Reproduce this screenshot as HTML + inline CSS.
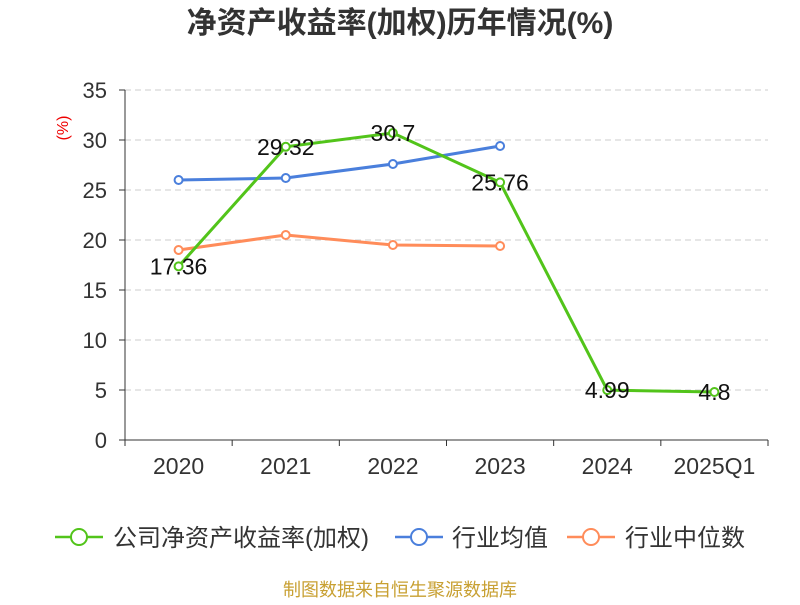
<!DOCTYPE html>
<html><head><meta charset="utf-8"><style>
body{margin:0;background:#fff;}
svg text{font-family:"Liberation Sans","Noto Sans CJK SC",sans-serif;}
</style></head><body>
<svg id="chart" width="800" height="600" xmlns="http://www.w3.org/2000/svg">
<text x="400" y="33" text-anchor="middle" font-size="30" font-weight="bold" fill="#333">净资产收益率(加权)历年情况(%)</text>
<text x="68" y="128" font-size="16" fill="#e00" transform="rotate(-90 68 128)" text-anchor="middle">(%)</text>
<g id="grid"></g><g id="axes"></g><g id="series"></g>
<g>
<g><line x1="55" y1="537" x2="103" y2="537" stroke="#52c41a" stroke-width="2.5"/><circle cx="79" cy="537" r="8" fill="#fff" stroke="#52c41a" stroke-width="2"/><text x="113" y="546" font-size="24" fill="#333">公司净资产收益率(加权)</text></g>
<g><line x1="395" y1="537" x2="443" y2="537" stroke="#4a7fdc" stroke-width="2.5"/><circle cx="419" cy="537" r="8" fill="#fff" stroke="#4a7fdc" stroke-width="2"/><text x="452" y="546" font-size="24" fill="#333">行业均值</text></g>
<g><line x1="567" y1="537" x2="615" y2="537" stroke="#ff8c5a" stroke-width="2.5"/><circle cx="591" cy="537" r="8" fill="#fff" stroke="#ff8c5a" stroke-width="2"/><text x="625" y="546" font-size="24" fill="#333">行业中位数</text></g>
</g>
<text x="400" y="596" text-anchor="middle" font-size="18" fill="#c8a032">制图数据来自恒生聚源数据库</text>
</svg>
<script>
const categories=["2020","2021","2022","2023","2024","2025Q1"];
const companyValues=[17.36,29.32,30.7,25.76,4.99,4.8];
const industryAvg=[26.0,26.2,27.6,29.4];
const industryMedian=[19.0,20.5,19.5,19.4];
const yTicks=[0,5,10,15,20,25,30,35];
const NS="http://www.w3.org/2000/svg";
const x0=125,x1=768,y0=440,yTop=90,yMax=35;
const bw=(x1-x0)/categories.length;
const xs=i=>x0+bw*(i+0.5);
const ys=v=>y0-(v/yMax)*(y0-yTop);
function mk(p,t,a){const e=document.createElementNS(NS,t);for(const k in a)e.setAttribute(k,a[k]);p.appendChild(e);return e;}
const grid=document.getElementById('grid'),axes=document.getElementById('axes'),ser=document.getElementById('series');
yTicks.forEach(v=>{
 if(v>0){const g=mk(grid,'line',{x1:x0,x2:x1,y1:ys(v),y2:ys(v),stroke:'#ccc','stroke-dasharray':'6,4'});
 
 }
 mk(axes,'line',{x1:x0-6,x2:x0,y1:ys(v),y2:ys(v),stroke:'#333'});
 const t=mk(axes,'text',{x:x0-18,y:ys(v)+8,'text-anchor':'end','font-size':22,fill:'#333'});t.textContent=v;
 
 
});
mk(axes,'line',{x1:x0,x2:x0,y1:yTop,y2:y0,stroke:'#333'});
mk(axes,'line',{x1:x0,x2:x1,y1:y0,y2:y0,stroke:'#333'});
for(let i=0;i<=categories.length;i++)mk(axes,'line',{x1:x0+bw*i,x2:x0+bw*i,y1:y0,y2:y0+6,stroke:'#333'});
categories.forEach((c,i)=>{const t=mk(axes,'text',{x:xs(i),y:474,'text-anchor':'middle','font-size':23,fill:'#333'});t.textContent=c;
 
 });
function line(vals,color,name,labels){
 const g=mk(ser,'g',{});
 
 
 mk(g,'polyline',{points:vals.map((v,i)=>xs(i)+','+ys(v)).join(' '),fill:'none',stroke:color,'stroke-width':3});
 vals.forEach((v,i)=>{const c=mk(g,'circle',{cx:xs(i),cy:ys(v),r:4,fill:'#fff',stroke:color,'stroke-width':2});
  
  
  if(labels){const t=mk(g,'text',{x:xs(i),y:ys(v)+8,'text-anchor':'middle','font-size':23,fill:'#111'});t.textContent=v;
  
  }});
}
line(industryMedian,'#ff8c5a','industry-median-series',false);
line(industryAvg,'#4a7fdc','industry-avg-series',false);
line(companyValues,'#52c41a','company-roe-series',true);
</script>
</body></html>
